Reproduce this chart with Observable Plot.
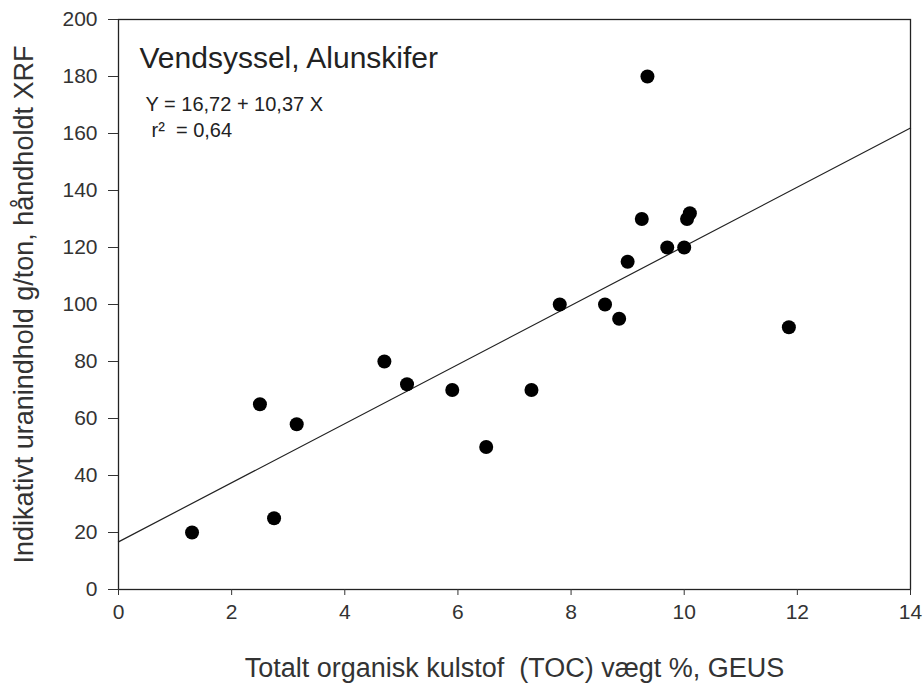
<!DOCTYPE html>
<html>
<head>
<meta charset="utf-8">
<script src="https://cdn.jsdelivr.net/npm/d3@7"></script>
<script src="https://cdn.jsdelivr.net/npm/@observablehq/plot@0.6"></script>
<style>
  html, body { margin: 0; padding: 0; background: #fff; }
  #chart { width: 923px; height: 685px; }
</style>
</head>
<body>
<div id="chart"></div>
<script>
const toc = [1.3, 2.5, 2.75, 3.15, 4.7, 5.1, 5.9, 6.5, 7.3, 7.8, 8.6, 8.85, 9.0, 9.25, 9.35, 9.7, 10.0, 10.05, 10.1, 11.85];
const uran = [20, 65, 25, 58, 80, 72, 70, 50, 70, 100, 100, 95, 115, 130, 180, 120, 120, 130, 132, 92];
const xTicks = [0, 2, 4, 6, 8, 10, 12, 14];
const yTicks = [0, 20, 40, 60, 80, 100, 120, 140, 160, 180, 200];
const intercept = 16.72;
const slope = 10.37;
const lineX = [0, 14];

const points = toc.map((x, i) => ({x, y: uran[i]}));
const fit = lineX.map(x => ({x, y: intercept + slope * x}));

const chart = Plot.plot({
  width: 923,
  height: 685,
  marginLeft: 118,
  marginRight: 13,
  marginTop: 19,
  marginBottom: 96,
  style: {fontFamily: "Liberation Sans, Arial, sans-serif", background: "#fff"},
  x: {domain: [0, 14], ticks: xTicks, label: null},
  y: {domain: [0, 200], ticks: yTicks, label: null},
  marks: [
    Plot.frame({stroke: "#222", strokeWidth: 1.3}),
    Plot.axisX({ticks: xTicks, tickSize: 6, tickPadding: 9, fontSize: 21, fill: "#333", stroke: "#333", label: null}),
    Plot.axisY({ticks: yTicks, tickSize: 10, tickPadding: 11, fontSize: 21, fill: "#333", stroke: "#333", label: null}),
    Plot.line(fit, {x: "x", y: "y", stroke: "#222", strokeWidth: 1.2}),
    Plot.dot(points, {x: "x", y: "y", r: 7, fill: "#000", stroke: "none"}),
    Plot.text(["Vendsyssel, Alunskifer"], {frameAnchor: "top-left", dx: 21, dy: 39, textAnchor: "start", lineAnchor: "middle", fontSize: 30, fill: "#222"}),
    Plot.text(["Y = 16,72 + 10,37 X"], {frameAnchor: "top-left", dx: 27, dy: 85, textAnchor: "start", lineAnchor: "middle", fontSize: 20, fill: "#222"}),
    Plot.text(["r\u00b2\u00a0\u00a0= 0,64"], {frameAnchor: "top-left", dx: 33, dy: 111, textAnchor: "start", lineAnchor: "middle", fontSize: 20, fill: "#222"}),
    Plot.text(["Totalt organisk kulstof\u00a0\u00a0(TOC) vægt %, GEUS"], {frameAnchor: "bottom", textAnchor: "middle", dy: 79, lineAnchor: "middle", fontSize: 27, fill: "#333"}),
    Plot.text(["Indikativt uranindhold g/ton, håndholdt XRF"], {frameAnchor: "left", textAnchor: "middle", dx: -94, rotate: -90, lineAnchor: "middle", fontSize: 27, fill: "#333"})
  ]
});
document.getElementById("chart").appendChild(chart);
</script>
</body>
</html>
